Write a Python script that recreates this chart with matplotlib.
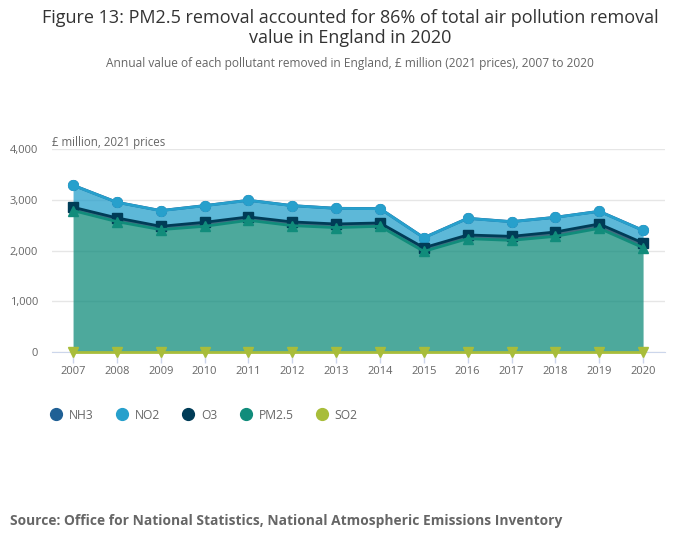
import numpy as np
import matplotlib
matplotlib.use("Agg")
import matplotlib.pyplot as plt
from matplotlib.lines import Line2D

plt.rcParams["font.family"] = ["Open Sans", "DejaVu Sans"]

years = ["2007", "2008", "2009", "2010", "2011", "2012", "2013",
         "2014", "2015", "2016", "2017", "2018", "2019", "2020"]

# £ million, 2021 prices
nh3 = [2, 2, 2, 2, 2, 2, 2, 2, 2, 2, 2, 2, 2, 2]
no2 = [433, 307, 308, 327, 326, 320, 307, 281, 196, 327, 288, 288, 248, 247]
o3 = [65, 73, 66, 79, 67, 73, 72, 66, 73, 73, 79, 86, 86, 93]
pm25 = [2782, 2564, 2406, 2472, 2590, 2485, 2446, 2472, 1977, 2228, 2195, 2274, 2432, 2050]
so2 = [5, 5, 5, 5, 5, 5, 5, 5, 5, 5, 5, 5, 5, 5]

series_names = ["NH3", "NO2", "O3", "PM2.5", "SO2"]
colors = {"NH3": "#206095", "NO2": "#27a0cc", "O3": "#003c57",
          "PM2.5": "#118c7b", "SO2": "#a8bd3a"}
markers = {"NH3": "o", "NO2": "o", "O3": "s", "PM2.5": "^", "SO2": "v"}
values = {"NH3": nh3, "NO2": no2, "O3": o3, "PM2.5": pm25, "SO2": so2}

fig = plt.figure(figsize=(7, 5.49), dpi=100)
ax = fig.add_axes([0.0743, 0.3588, 0.8757, 0.3698])

x = np.arange(len(years))

# stack from bottom: SO2, PM2.5, O3, NO2, NH3
stack_order = ["SO2", "PM2.5", "O3", "NO2", "NH3"]
base = np.zeros(len(years))
tops = {}
for name in stack_order:
    top = base + np.array(values[name], dtype=float)
    tops[name] = (base.copy(), top)
    base = top

for name in stack_order:
    lo, hi = tops[name]
    ax.fill_between(x, lo, hi, color=colors[name], alpha=0.75, linewidth=0, zorder=2)

# lines + markers, drawn in series order so later ones sit on top
for name in series_names:
    lo, hi = tops[name]
    ax.plot(x, hi, color=colors[name], linewidth=2, marker=markers[name],
            markersize=7 if markers[name] != "s" else 6.5, zorder=3,
            clip_on=False)

ax.set_xlim(-0.48, 13.5)
ax.set_ylim(0, 4000)
ax.set_yticks([0, 1000, 2000, 3000, 4000])
ax.set_yticklabels(["0", "1,000", "2,000", "3,000", "4,000"])
ax.set_xticks(x)
ax.set_xticklabels(years)
ax.grid(axis="y", color="#e6e6e6", linewidth=1, zorder=0)
ax.set_axisbelow(True)
for side in ["top", "right", "left"]:
    ax.spines[side].set_visible(False)
ax.spines["bottom"].set_color("#ccd6eb")
ax.tick_params(axis="x", colors="#ccd6eb", length=8, width=1, labelcolor="#666666",
               labelsize=8, pad=2)
ax.tick_params(axis="y", length=0, labelcolor="#666666", labelsize=8, pad=10)

ax.text(0.0, 1.0, "£ million, 2021 prices", transform=ax.transAxes,
        ha="left", va="bottom", fontsize=8.3, color="#666666")

fig.text(0.5, 0.967, "Figure 13: PM2.5 removal accounted for 86% of total air pollution removal",
         ha="center", va="center", fontsize=13, color="#333333")
fig.text(0.5, 0.931, "value in England in 2020",
         ha="center", va="center", fontsize=13, color="#333333")
fig.text(0.5, 0.884, "Annual value of each pollutant removed in England, £ million (2021 prices), 2007 to 2020",
         ha="center", va="center", fontsize=8.6, color="#666666")

handles = [Line2D([0], [0], marker="o", linestyle="", markersize=8.5,
                  markerfacecolor=colors[n], markeredgecolor=colors[n]) for n in series_names]
leg = fig.legend(handles, series_names, loc="center left", bbox_to_anchor=(0.0714, 0.244),
                 ncol=5, frameon=False, fontsize=8.7, handletextpad=0.58,
                 columnspacing=1.82, handlelength=1.0, borderpad=0, borderaxespad=0)
for t in leg.get_texts():
    t.set_color("#666666")

fig.text(0.014, 0.051, "Source: Office for National Statistics, National Atmospheric Emissions Inventory",
         ha="left", va="center", fontsize=9.95, fontweight="bold", color="#666666")

fig.savefig("out.png", dpi=100)
